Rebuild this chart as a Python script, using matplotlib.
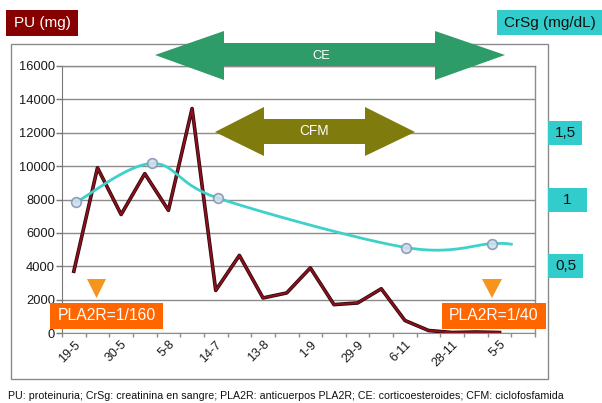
import numpy as np
import matplotlib
matplotlib.use("Agg")
import matplotlib.pyplot as plt
from matplotlib.patches import Polygon, Rectangle
from matplotlib.transforms import blended_transform_factory
import matplotlib.patheffects as pe

plt.rcParams['font.family'] = ['Liberation Sans', 'DejaVu Sans']

# ---------------- data ----------------
categories = ["19-5", "", "30-5", "", "5-8", "", "14-7", "", "13-8", "", "1-9", "",
              "29-9", "", "6-11", "", "28-11", "", "5-5", ""]
pu_values = [3700, 9900, 7100, 9550, 7350, 13450, 2550, 4650, 2100, 2400,
             3900, 1700, 1800, 2650, 750, 150, 30, 60, 30]
crsg_pos = [0.1, 3.3, 6.1, 14.05, 17.7, 18.5]
crsg_values = [0.98, 1.27, 1.01, 0.64, 0.67, 0.665]
crsg_marked = 5
pu_ticks = [0, 2000, 4000, 6000, 8000, 10000, 12000, 14000, 16000]
crsg_ticks = [0.5, 1.0, 1.5]
crsg_ticklabels = ["0,5", "1", "1,5"]

W, H = 602, 403
fig = plt.figure(figsize=(W / 100, H / 100), dpi=100)


def fx(x):
    return x / W


def fy(y):
    return 1 - y / H


def P(x, y):
    return (fx(x), fy(y))


# outer frame
fig.patches.append(Rectangle(P(11, 379), fx(548 - 11), (379 - 44) / H, transform=fig.transFigure,
                             fill=False, ec='#8a8a8a', lw=1.0, zorder=0))

ax = fig.add_axes([fx(62), fy(333), fx(535 - 62), (333 - 66) / H])
ax.set_xlim(-0.5, len(categories) - 0.5)
ax.set_ylim(0, 16000)
ax.set_yticks(pu_ticks)
ax.set_yticklabels([str(v) for v in pu_ticks], fontsize=9.3, color='#1a1a1a')
ax.yaxis.grid(True, color='#8c8c8c', lw=1.0)
ax.set_axisbelow(True)
for s in ['top', 'right']:
    ax.spines[s].set_color('#8c8c8c')
    ax.spines[s].set_linewidth(1.0)
ax.spines['left'].set_color('#777777')
ax.spines['bottom'].set_color('#8c8c8c')
ax.tick_params(axis='y', length=4, width=1, color='#777777', pad=1)

# x ticks: marks at category boundaries, labels at centers
ax.set_xticks(np.arange(-0.5, len(categories), 1.0), minor=True)
lab_idx = [i for i, c in enumerate(categories) if c]
ax.set_xticks(lab_idx)
ax.set_xticklabels([categories[i] for i in lab_idx], rotation=45, ha='right', va='top',
                   rotation_mode='anchor', fontsize=9, color='#1a1a1a')
ax.tick_params(axis='x', which='major', length=0, pad=4)
ax.tick_params(axis='x', which='minor', length=3, width=1, color='#8c8c8c')

# PU line
ax.plot(np.arange(len(pu_values)), pu_values, color='#8a1020', lw=1.5, zorder=3,
        path_effects=[pe.Stroke(linewidth=2.6, foreground='#2a0505'), pe.Normal()])

# CrSg on twin axis
ax2 = ax.twinx()
ax2.set_ylim(0, 2)
ax2.set_yticks([])
for s in ax2.spines.values():
    s.set_visible(False)

# smoothed line (Catmull-Rom in display space)
fig.canvas.draw()
pts = ax2.transData.transform(np.column_stack([crsg_pos, crsg_values]))
ext = np.vstack([pts[0], pts, pts[-1]])
curve = []
for i in range(1, len(ext) - 2):
    p0, p1, p2, p3 = ext[i - 1], ext[i], ext[i + 1], ext[i + 2]
    c1 = p1 + (p2 - p0) / 6
    c2 = p2 - (p3 - p1) / 6
    t = np.linspace(0, 1, 40)[:, None]
    seg = (1 - t) ** 3 * p1 + 3 * (1 - t) ** 2 * t * c1 + 3 * (1 - t) * t ** 2 * c2 + t ** 3 * p2
    curve.append(seg)
curve = np.vstack(curve)
curve_data = ax2.transData.inverted().transform(curve)
ax2.plot(curve_data[:, 0], curve_data[:, 1], color='#3dd1c9', lw=2.0, zorder=4)
ax2.plot(crsg_pos[:crsg_marked], crsg_values[:crsg_marked], ls='none', marker='o', ms=7,
         mfc='#d0e0ea', mec='#8796b8', mew=1.2, alpha=0.9, zorder=5)

# right-side value boxes
bt = blended_transform_factory(fig.transFigure, ax2.transData)
box_w = {"0,5": 35, "1": 39, "1,5": 34}
half_h = 12 / 133.5
for v, lab in zip(crsg_ticks, crsg_ticklabels):
    w = box_w.get(lab, 36)
    fig.patches.append(Rectangle((fx(548), v - half_h), fx(w), 2 * half_h, transform=bt,
                                 fc='#33cccc', ec='none', zorder=2))
    fig.text(fx(548 + w / 2), v, lab, transform=bt, ha='center', va='center',
             fontsize=11, color='#111111')

# title boxes
fig.patches.append(Rectangle(P(6, 36), fx(72), 26 / H, transform=fig.transFigure,
                             fc='#860000', ec='none'))
fig.text(fx(42), fy(23), "PU (mg)", ha='center', va='center', fontsize=11, color='white')
fig.patches.append(Rectangle(P(497, 35), fx(105), 25 / H, transform=fig.transFigure,
                             fc='#33cccc', ec='none'))
fig.text(fx(550), fy(22.5), "CrSg (mg/dL)", ha='center', va='center', fontsize=11, color='#111111')

# treatment arrows
ce = [(155, 55), (224, 31), (224, 43), (435, 43), (435, 31), (505, 55), (435, 80), (435, 66),
      (224, 66), (224, 80)]
fig.patches.append(Polygon([P(x, y) for x, y in ce], closed=True, transform=fig.transFigure,
                           fc='#2d9c69', ec='none', zorder=6))
fig.text(fx(321), fy(56), "CE", ha='center', va='center', fontsize=9.3, color='white', zorder=7)

cfm = [(215, 132), (264, 107), (264, 119), (365, 119), (365, 107), (415, 132), (365, 156),
       (365, 144), (264, 144), (264, 156)]
fig.patches.append(Polygon([P(x, y) for x, y in cfm], closed=True, transform=fig.transFigure,
                           fc='#7f7b0c', ec='none', zorder=6))
fig.text(fx(314), fy(131), "CFM", ha='center', va='center', fontsize=9.8, color='white', zorder=7)

# PLA2R markers
for tri in ([(87, 279), (106, 279), (96.5, 298)], [(482, 279), (502, 279), (492, 298)]):
    fig.patches.append(Polygon([P(x, y) for x, y in tri], closed=True, transform=fig.transFigure,
                               fc='#f7941d', ec='none', zorder=6))

for (x0, x1, txt) in [(50, 163, "PLA2R=1/160"), (442, 546, "PLA2R=1/40")]:
    fig.patches.append(Rectangle(P(x0, 329), fx(x1 - x0), 26 / H, transform=fig.transFigure,
                                 fc='#ff6600', ec='none', zorder=6))
    fig.text(fx((x0 + x1) / 2), fy(316), txt, ha='center', va='center', fontsize=11.3,
             color='white', zorder=7)

# footnote
fig.text(fx(8), fy(396), "PU: proteinuria; CrSg: creatinina en sangre; PLA2R: anticuerpos PLA2R; "
         "CE: corticoesteroides; CFM: ciclofosfamida", ha='left', va='center', fontsize=7.7,
         color='#111111')

fig.savefig("out.png", dpi=100)
